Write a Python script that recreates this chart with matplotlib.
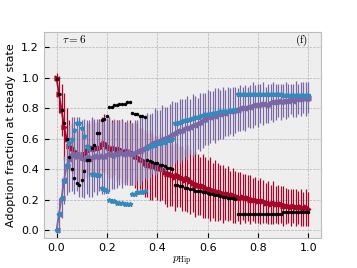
import numpy as np
import matplotlib
matplotlib.use("Agg")
import matplotlib.pyplot as plt

plt.style.use("bmh")
plt.rcParams["mathtext.fontset"] = "cm"

# p_Hip grid, step 0.01
p_hip = np.round(np.arange(0, 101) / 100, 2)

red_mean = [1.00, 0.89, 0.79, 0.68, 0.60, 0.55, 0.54, 0.52, 0.49, 0.49,
            0.48, 0.50, 0.52, 0.53, 0.54, 0.53, 0.54, 0.54, 0.56, 0.57,
            0.55, 0.54, 0.53, 0.54, 0.52, 0.53, 0.52, 0.51, 0.52, 0.51,
            0.50, 0.49, 0.48, 0.47, 0.46, 0.44, 0.43, 0.43, 0.42, 0.42,
            0.41, 0.41, 0.40, 0.38, 0.37, 0.37, 0.36, 0.35, 0.36, 0.35,
            0.34, 0.33, 0.34, 0.32, 0.31, 0.30, 0.30, 0.29, 0.29, 0.28,
            0.27, 0.27, 0.26, 0.26, 0.25, 0.25, 0.24, 0.24, 0.24, 0.23,
            0.23, 0.22, 0.22, 0.21, 0.22, 0.21, 0.21, 0.20, 0.20, 0.20,
            0.19, 0.19, 0.19, 0.18, 0.18, 0.17, 0.18, 0.17, 0.17, 0.17,
            0.16, 0.16, 0.16, 0.15, 0.16, 0.15, 0.15, 0.15, 0.14, 0.15,
            0.14]
red_err = [0.03, 0.12, 0.17, 0.22, 0.20, 0.17, 0.16, 0.15, 0.17, 0.16,
           0.17, 0.16, 0.18, 0.17, 0.19, 0.18, 0.17, 0.19, 0.18, 0.19,
           0.18, 0.20, 0.19, 0.18, 0.20, 0.19, 0.21, 0.20, 0.19, 0.21,
           0.20, 0.21, 0.22, 0.20, 0.21, 0.22, 0.21, 0.23, 0.22, 0.20,
           0.21, 0.22, 0.20, 0.21, 0.22, 0.21, 0.20, 0.22, 0.21, 0.20,
           0.21, 0.20, 0.22, 0.21, 0.19, 0.21, 0.20, 0.19, 0.21, 0.20,
           0.19, 0.21, 0.18, 0.20, 0.19, 0.18, 0.19, 0.17, 0.18, 0.16,
           0.18, 0.17, 0.16, 0.17, 0.15, 0.16, 0.15, 0.16, 0.14, 0.15,
           0.14, 0.15, 0.14, 0.13, 0.14, 0.13, 0.14, 0.12, 0.13, 0.12,
           0.13, 0.12, 0.11, 0.12, 0.11, 0.12, 0.11, 0.12, 0.11, 0.12,
           0.11]

purple_mean = [0.00, 0.11, 0.21, 0.33, 0.42, 0.47, 0.50, 0.49, 0.50, 0.48,
               0.47, 0.47, 0.48, 0.47, 0.48, 0.49, 0.48, 0.49, 0.48, 0.49,
               0.50, 0.50, 0.49, 0.50, 0.50, 0.51, 0.50, 0.50, 0.51, 0.50,
               0.50, 0.51, 0.52, 0.52, 0.53, 0.54, 0.55, 0.55, 0.57, 0.58,
               0.58, 0.59, 0.60, 0.60, 0.61, 0.62, 0.63, 0.64, 0.65, 0.65,
               0.66, 0.67, 0.67, 0.68, 0.69, 0.69, 0.70, 0.71, 0.72, 0.73,
               0.74, 0.74, 0.75, 0.75, 0.76, 0.76, 0.77, 0.77, 0.78, 0.78,
               0.78, 0.79, 0.79, 0.80, 0.80, 0.80, 0.81, 0.81, 0.82, 0.82,
               0.82, 0.83, 0.83, 0.82, 0.83, 0.84, 0.84, 0.84, 0.85, 0.84,
               0.85, 0.85, 0.85, 0.86, 0.85, 0.86, 0.86, 0.86, 0.87, 0.86,
               0.87]
purple_err = [0.02, 0.10, 0.13, 0.16, 0.19, 0.22, 0.24, 0.25, 0.24, 0.26,
              0.25, 0.26, 0.24, 0.25, 0.26, 0.24, 0.25, 0.23, 0.24, 0.25,
              0.23, 0.24, 0.22, 0.23, 0.22, 0.21, 0.22, 0.20, 0.21, 0.20,
              0.20, 0.21, 0.20, 0.22, 0.21, 0.20, 0.22, 0.21, 0.20, 0.22,
              0.21, 0.20, 0.22, 0.21, 0.20, 0.21, 0.22, 0.20, 0.19, 0.21,
              0.20, 0.19, 0.21, 0.18, 0.20, 0.19, 0.17, 0.19, 0.18, 0.17,
              0.18, 0.17, 0.16, 0.18, 0.17, 0.16, 0.17, 0.15, 0.16, 0.15,
              0.16, 0.15, 0.14, 0.15, 0.14, 0.15, 0.13, 0.14, 0.15, 0.13,
              0.14, 0.13, 0.14, 0.12, 0.13, 0.12, 0.13, 0.12, 0.11, 0.12,
              0.11, 0.12, 0.11, 0.10, 0.11, 0.12, 0.10, 0.11, 0.10, 0.11,
              0.10]

blue_star = [0.00, 0.11, 0.21, 0.32, 0.43, 0.57, 0.60, 0.66, 0.70, 0.70,
             0.67, 0.62, 0.55, 0.54, 0.37, 0.37, 0.36, 0.36, 0.28, 0.27,
             0.26, 0.20, 0.19, 0.19, 0.18, 0.18, 0.18, 0.17, 0.17, 0.17,
             0.24, 0.24, 0.25, 0.25, 0.25, 0.26, 0.54, 0.55, 0.56, 0.56,
             0.57, 0.57, 0.58, 0.58, 0.59, 0.59, 0.60, 0.70, 0.705, 0.71,
             0.715, 0.72, 0.72, 0.73, 0.735, 0.74, 0.745, 0.75, 0.755, 0.76,
             0.76, 0.765, 0.77, 0.77, 0.775, 0.78, 0.78, 0.785, 0.785, 0.79,
             0.79, 0.79, 0.89, 0.89, 0.89, 0.89, 0.89, 0.89, 0.89, 0.89,
             0.89, 0.89, 0.89, 0.89, 0.89, 0.89, 0.89, 0.89, 0.89, 0.89,
             0.885, 0.885, 0.885, 0.885, 0.885, 0.885, 0.885, 0.885, 0.885, 0.885,
             0.885]

black_dot = [0.99, 0.89, 0.79, 0.70, 0.60, 0.48, 0.40, 0.34, 0.31, 0.30,
             0.33, 0.39, 0.46, 0.46, 0.54, 0.56, 0.64, 0.64, 0.72, 0.73,
             0.75, 0.81, 0.81, 0.82, 0.82, 0.83, 0.83, 0.83, 0.84, 0.84,
             0.77, 0.76, 0.76, 0.75, 0.75, 0.74, 0.46, 0.455, 0.45, 0.44,
             0.44, 0.43, 0.43, 0.42, 0.41, 0.41, 0.40, 0.30, 0.30, 0.29,
             0.29, 0.28, 0.28, 0.27, 0.27, 0.26, 0.26, 0.26, 0.25, 0.25,
             0.245, 0.24, 0.24, 0.23, 0.23, 0.225, 0.22, 0.22, 0.215, 0.21,
             0.21, 0.205, 0.107, 0.107, 0.107, 0.107, 0.107, 0.107, 0.107, 0.107,
             0.107, 0.107, 0.107, 0.107, 0.107, 0.107, 0.107, 0.107, 0.107, 0.107,
             0.12, 0.12, 0.12, 0.12, 0.12, 0.12, 0.12, 0.12, 0.12, 0.12,
             0.12]

fig = plt.figure(figsize=(3.57, 2.68), dpi=100)
ax = fig.add_axes([0.123, 0.112, 0.776, 0.769])

ax.errorbar(p_hip, red_mean, yerr=red_err, fmt=">-", color="#A60628",
            ms=3.5, lw=1.3, elinewidth=0.9, capsize=0, zorder=2)
ax.errorbar(p_hip, purple_mean, yerr=purple_err, fmt="<-", color="#7A68A6",
            ms=3.5, lw=1.3, elinewidth=0.9, capsize=0, zorder=3)
ax.plot(p_hip, blue_star, "*", color="#348ABD", ms=3.5, zorder=4)
ax.plot(p_hip, black_dot, ".", color="black", ms=3, zorder=5)

ax.set_xlim(-0.05, 1.05)
ax.set_ylim(-0.05, 1.3)
ax.set_xticks([0.0, 0.2, 0.4, 0.6, 0.8, 1.0])
ax.set_yticks([0.0, 0.2, 0.4, 0.6, 0.8, 1.0, 1.2])
ax.tick_params(labelsize=8)
ax.set_xlabel(r"$p_{\rm Hip}$", fontsize=8, labelpad=1)
ax.set_ylabel("Adoption fraction at steady state", fontsize=8)
ax.text(0.02, 1.23, r"$\tau=6$", fontsize=8)
ax.text(1.0, 1.23, r"$\mathrm{(f)}$", fontsize=8, ha="right")

fig.savefig("out.png", dpi=100)
